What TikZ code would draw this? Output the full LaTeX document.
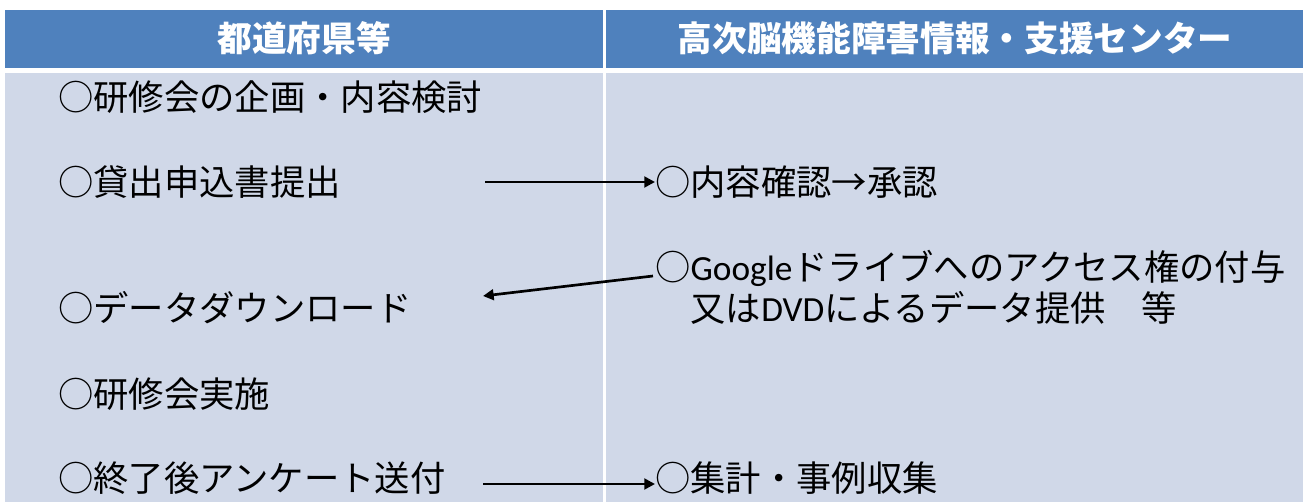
\documentclass[tikz,border=0pt]{standalone}
\usepackage{fontspec}
\setmainfont{Noto Sans CJK JP}
\newfontfamily\lat{Carlito}
\usetikzlibrary{arrows.meta}
\definecolor{hdrblue}{HTML}{4F81BD}
\definecolor{bodyblue}{HTML}{D0D8E8}
\begin{document}
\begin{tikzpicture}[x=0.75pt,y=-0.75pt,
  hdr/.style={text=white,font=\fontsize{26}{30}\selectfont\bfseries,inner sep=0},
  item/.style={anchor=west,inner sep=0,font=\fontsize{26.5}{31}\selectfont,align=left},
  arr/.style={line width=2pt,-{Triangle[length=8pt,width=8pt]}}]
\useasboundingbox (0,0) rectangle (1303,502);
\fill[white] (0,0) rectangle (1303,502);
\fill[hdrblue] (5,10) rectangle (1303,68);
\fill[bodyblue] (5,73) rectangle (1303,502);
\fill[white] (602.5,10) rectangle (605.5,502);
% headers
\node[hdr] (h1) at (304,38) {都道府県等};
\node[hdr] (h2) at (955,38) {高次脳機能障害情報・支援センター};
% left column
\node[item] (l1) at (58,97) {○研修会の企画・内容検討};
\node[item] (l2) at (58,182) {○貸出申込書提出};
\node[item] (l3) at (58,308) {○データダウンロード};
\node[item] (l4) at (58,394) {○研修会実施};
\node[item] (l5) at (58,478) {○終了後アンケート送付};
% right column
\node[item] (r1) at (655,182) {○内容確認→承認};
\node[item] (r2) at (655,287.5) {○{\lat Google}ドライブへのアクセス権の付与\\\hphantom{○}又は{\lat DVD}によるデータ提供　等};
\node[item] (r3) at (655,478) {○集計・事例収集};
% connector ends
\coordinate (a1s) at (485,182);
\coordinate (a2s) at (653,276);
\coordinate (a2e) at (483,296);
\coordinate (a3s) at (483,484);
\draw[arr] (a1s) -- (r1.west |- a1s);
\draw[arr] (a2s) -- (a2e);
\draw[arr] (a3s) -- (r3.west |- a3s);
\end{tikzpicture}
\end{document}
